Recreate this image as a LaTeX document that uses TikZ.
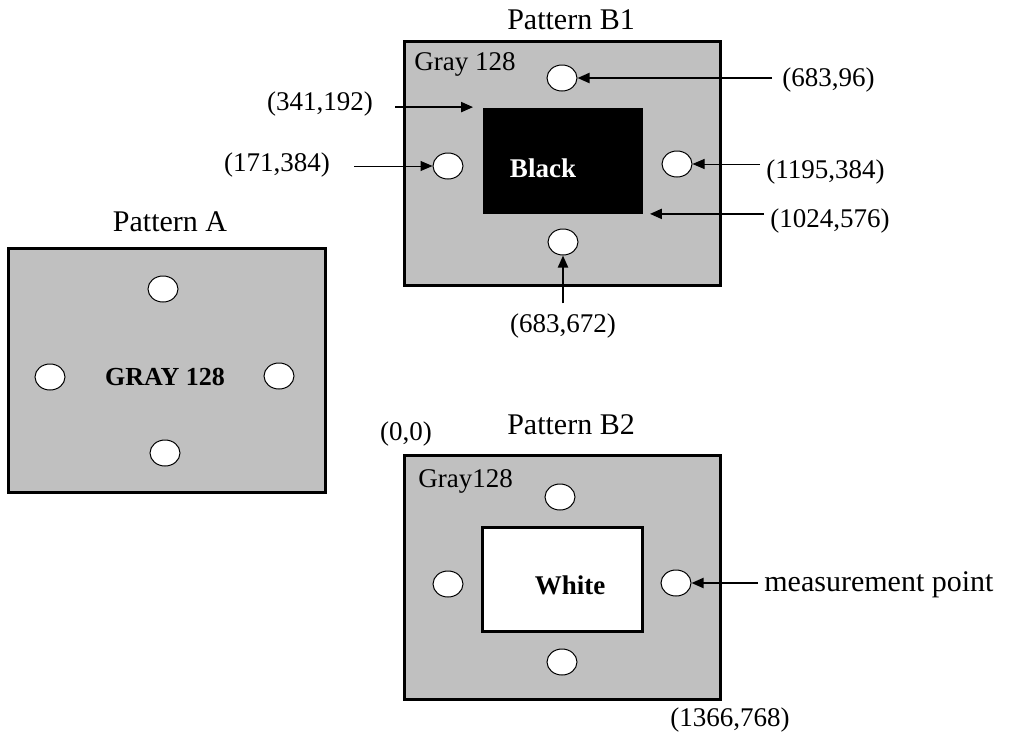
\documentclass[tikz,border=0pt]{standalone}
\usepackage{fontspec}
\setmainfont{Liberation Serif}
\usetikzlibrary{shapes.geometric,arrows.meta}
\definecolor{panelgray}{RGB}{192,192,192}

\begin{document}
\begin{tikzpicture}[x=0.5pt,y=-0.5pt,
  every node/.style={font=\fontsize{13.5}{16}\selectfont,inner sep=1pt},
  title/.style={font=\fontsize{15}{18}\selectfont},
  mpoint/.style={ellipse,draw,fill=white,line width=0.5pt,minimum width=15pt,minimum height=13pt,inner sep=0pt},
  inner/.style={rectangle,minimum width=80pt,minimum height=53pt,inner sep=0pt},
  ptr/.style={-{Triangle[length=6pt,width=5pt]},line width=1pt},
  thinptr/.style={ptr,line width=0.5pt}]
  \useasboundingbox (0,0) rectangle (1018,745);

  % Pattern A
  \node[title] (ta) at (170,222) {Pattern A};
  \draw[line width=1.5pt,fill=panelgray] (8,248) rectangle (325,492);
  \node (graya) at (165,377) {\fontsize{13}{16}\selectfont\bfseries GRAY 128};
  \node[mpoint] (at) at (163,289) {};
  \node[mpoint] (al) at (50,377) {};
  \node[mpoint] (ar) at (279,376) {};
  \node[mpoint] (ab) at (165,453) {};

  % Pattern B1
  \node[title] (tb1) at (571,20) {Pattern B1};
  \draw[line width=1.5pt,fill=panelgray] (404,41) rectangle (720,285);
  \node[anchor=west] (grayb1) at (412,64) {Gray 128};
  \node[inner,fill=black] (blk) at (562.5,160.5) {};
  \node[text=white,font=\fontsize{13.5}{16}\selectfont\bfseries] (blktxt) at (543,168) {Black};
  \node[mpoint] (b1t) at (562,78) {};
  \node[mpoint] (b1l) at (448,166) {};
  \node[mpoint] (b1r) at (677,164) {};
  \node[mpoint] (b1b) at (563,242) {};

  % B1 coordinates
  \node[anchor=west] (l96) at (780,80) {(683,96)};
  \draw[ptr,shorten <=4pt] (l96.west |- b1t) -- (b1t);
  \node (l192) at (320,104) {(341,192)};
  \draw[ptr,shorten <=10pt,shorten >=4.5pt] (l192.east |- blk.north west) -- (blk.north west);
  \node (l171) at (277,165) {(171,384)};
  \draw[thinptr,shorten <=11pt] (l171.east |- b1l) -- (b1l);
  \node[anchor=west] (l1195) at (764,172) {(1195,384)};
  \draw[thinptr,shorten <=2pt] (l1195.west |- b1r) -- (b1r);
  \node[anchor=west] (l1024) at (768,221) {(1024,576)};
  \draw[ptr,shorten <=2pt,shorten >=3.5pt] (l1024.west |- blk.south east) -- (blk.south east);
  \node (l672) at (563,326) {(683,672)};
  \draw[ptr,shorten <=4pt] (l672) -- (b1b);

  % Pattern B2
  \node[title] (tb2) at (571,425) {Pattern B2};
  \node (l00) at (406,434) {(0,0)};
  \draw[line width=1.5pt,fill=panelgray] (404,455) rectangle (720,699);
  \node[anchor=west] (grayb2) at (416,481) {Gray128};
  \node[inner,draw,line width=1.5pt,fill=white,minimum height=52pt] (wht) at (562.5,579.5) {};
  \node[font=\fontsize{13.5}{16}\selectfont\bfseries] (whttxt) at (570,585) {White};
  \node[mpoint] (b2t) at (560,497) {};
  \node[mpoint] (b2l) at (448,584) {};
  \node[mpoint] (b2r) at (676,583) {};
  \node[mpoint] (b2b) at (562,662) {};
  \node (l1366) at (730,720) {(1366,768)};

  % measurement point
  \node[anchor=west,font=\fontsize{15}{18}\selectfont] (lmp) at (762,585) {measurement point};
  \draw[ptr,shorten <=2pt] (lmp.west |- b2r) -- (b2r);
\end{tikzpicture}
\end{document}
